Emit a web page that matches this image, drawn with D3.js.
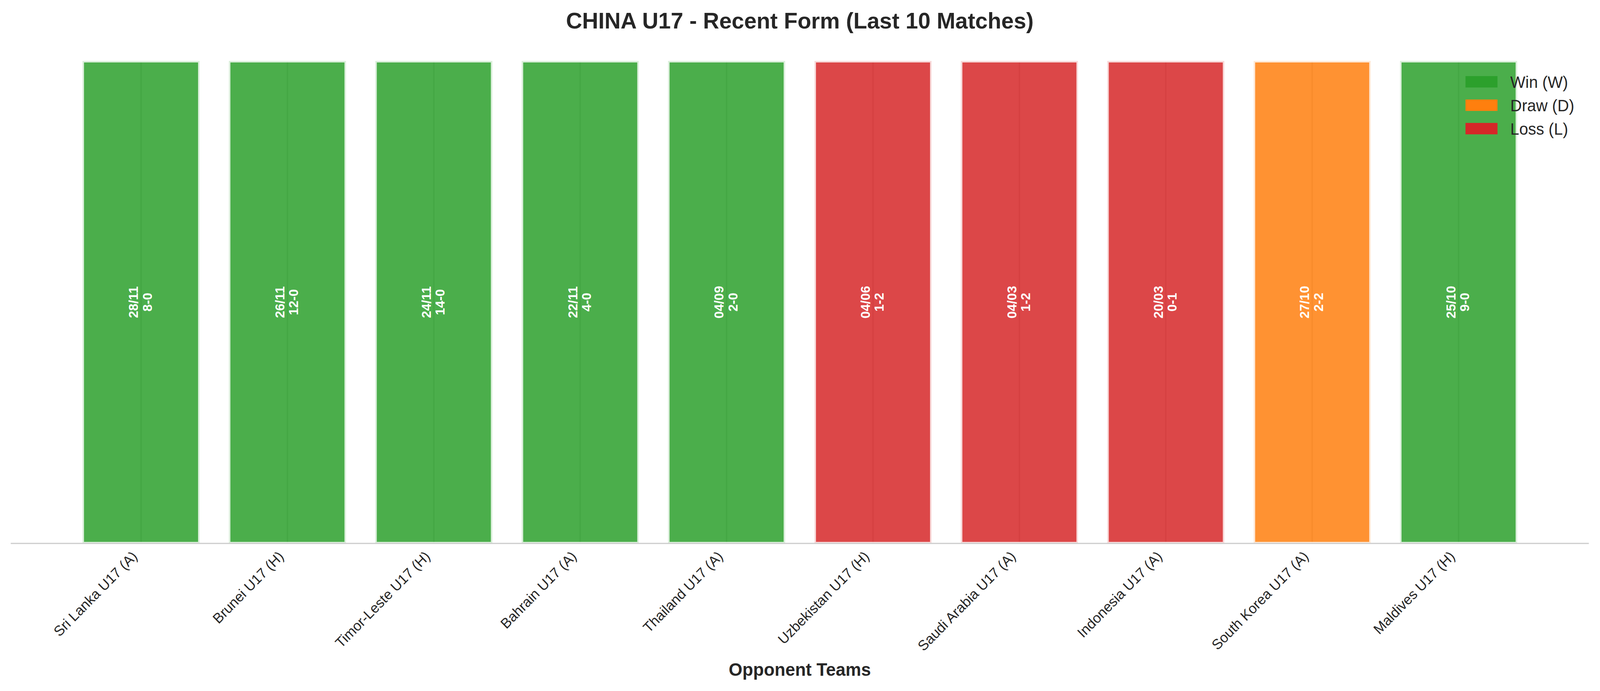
<!DOCTYPE html>
<html>
<head>
<meta charset="utf-8">
<script src="https://cdn.jsdelivr.net/npm/d3@7"></script>
<style>
  html, body { margin: 0; padding: 0; background: #fff; overflow: hidden; }
  svg { display: block; width: 100vw; height: 100vh; }
  text { font-family: "Liberation Sans", Arial, Helvetica, sans-serif; }
</style>
</head>
<body>
<svg id="chart"></svg>
<script>
// match data, in the column order of the picture
const teams = ["Sri Lanka U17 (A)", "Brunei U17 (H)", "Timor-Leste U17 (H)", "Bahrain U17 (A)", "Thailand U17 (A)",
               "Uzbekistan U17 (H)", "Saudi Arabia U17 (A)", "Indonesia U17 (A)", "South Korea U17 (A)", "Maldives U17 (H)"];
const dates = ["28/11", "26/11", "24/11", "22/11", "04/09", "04/06", "04/03", "20/03", "27/10", "25/10"];
const scores = ["8-0", "12-0", "14-0", "4-0", "2-0", "1-2", "1-2", "0-1", "2-2", "9-0"];
const results = ["W", "W", "W", "W", "W", "L", "L", "L", "D", "W"];
const barValue = [1, 1, 1, 1, 1, 1, 1, 1, 1, 1];

const resultKeys = ["W", "D", "L"];
const resultNames = ["Win (W)", "Draw (D)", "Loss (L)"];
const resultColors = ["#2ca02c", "#ff7f0e", "#d62728"];

const W = 4170, H = 1770;
const axLeft = 28, axRight = 4141, axTop = 156, axBottom = 1392;
const ink = "#262626";

// the window can be narrower than the figure, so draw in figure units and fit it
let svg = d3.select("#chart")
    .attr("viewBox", "0 0 " + W + " " + H)
    .attr("preserveAspectRatio", "none");
svg.append("rect").attr("width", W).attr("height", H).attr("fill", "#fff");

let x = d3.scaleBand()
    .domain(teams)
    .range([axLeft, axRight])
    .paddingInner(0.2)
    .paddingOuter(0.49);

let y = d3.scaleLinear().domain([0, 1]).range([axBottom, axTop]);

let color = d3.scaleOrdinal().domain(resultKeys).range(resultColors);

let rows = teams.map(function (t, i) {
    return {team: t, date: dates[i], score: scores[i], res: results[i], v: barValue[i]};
});

// vertical grid lines at ticks (behind bars)
svg.append("g")
    .selectAll("line")
    .data(teams)
    .enter()
    .append("line")
    .attr("x1", d => x(d) + x.bandwidth() / 2)
    .attr("x2", d => x(d) + x.bandwidth() / 2)
    .attr("y1", y(1))
    .attr("y2", y(0))
    .attr("stroke", "#cccccc")
    .attr("stroke-width", 3.5);

// bars
svg.append("g")
    .selectAll("rect")
    .data(rows)
    .enter()
    .append("rect")
    .attr("x", d => x(d.team))
    .attr("width", x.bandwidth())
    .attr("y", d => y(d.v))
    .attr("height", d => y(0) - y(d.v))
    .attr("fill", d => color(d.res))
    .attr("fill-opacity", 0.85)
    .attr("stroke", "#fff")
    .attr("stroke-opacity", 0.8)
    .attr("stroke-width", 8);

// x axis baseline
svg.append("line")
    .attr("x1", axLeft).attr("x2", axRight)
    .attr("y1", axBottom).attr("y2", axBottom)
    .attr("stroke", "#cccccc")
    .attr("stroke-width", 3);

// date / score labels inside bars
let lab = svg.append("g")
    .selectAll("g")
    .data(rows)
    .enter()
    .append("g")
    .attr("transform", d => "translate(" + (x(d.team) + x.bandwidth() / 2) + "," + y(d.v / 2) + ") rotate(-90)");

lab.append("text")
    .attr("x", 0).attr("y", -8)
    .attr("text-anchor", "middle")
    .attr("fill", "#fff")
    .attr("font-weight", "bold")
    .attr("font-size", 33.3)
    .text(d => d.date);

lab.append("text")
    .attr("x", 0).attr("y", 28)
    .attr("text-anchor", "middle")
    .attr("fill", "#fff")
    .attr("font-weight", "bold")
    .attr("font-size", 33.3)
    .text(d => d.score);

// x tick labels, rotated 45
let xAxis = d3.axisBottom(x).tickSize(0).tickPadding(0);
let gx = svg.append("g")
    .attr("transform", "translate(0," + axBottom + ")")
    .call(xAxis);
gx.select(".domain").remove();
gx.selectAll(".tick text")
    .attr("font-family", "Liberation Sans, Arial, sans-serif")
    .attr("font-size", 36.5)
    .attr("fill", ink)
    .attr("text-anchor", "end")
    .attr("dy", 0)
    .attr("y", 0)
    .attr("transform", "translate(-7.5,35.5) rotate(-45)");

// x axis title
svg.append("text")
    .attr("x", (axLeft + axRight) / 2)
    .attr("y", 1731)
    .attr("text-anchor", "middle")
    .attr("font-size", 45.8)
    .attr("font-weight", "bold")
    .attr("fill", ink)
    .text("Opponent Teams");

// title
svg.append("text")
    .attr("x", (axLeft + axRight) / 2)
    .attr("y", 73)
    .attr("text-anchor", "middle")
    .attr("font-size", 58.3)
    .attr("font-weight", "bold")
    .attr("fill", ink)
    .text("CHINA U17 - Recent Form (Last 10 Matches)");

// legend, upper right, no frame
let lg = svg.append("g");
let items = lg.selectAll("g")
    .data(resultKeys)
    .enter()
    .append("g")
    .attr("transform", (d, i) => "translate(0," + (209.5 + i * 60) + ")");

items.append("text")
    .attr("class", "lgtext")
    .attr("y", 15)
    .attr("font-size", 41.7)
    .attr("fill", ink)
    .text((d, i) => resultNames[i]);

let maxW = 0;
lg.selectAll(".lgtext").each(function () {
    maxW = Math.max(maxW, this.getComputedTextLength());
});
let textX = axRight - 38 - maxW;
items.select("text").attr("x", textX);
items.append("rect")
    .attr("x", textX - 33.4 - 83.4)
    .attr("y", -14.6)
    .attr("width", 83.4)
    .attr("height", 29.2)
    .attr("fill", d => color(d));
</script>
</body>
</html>
